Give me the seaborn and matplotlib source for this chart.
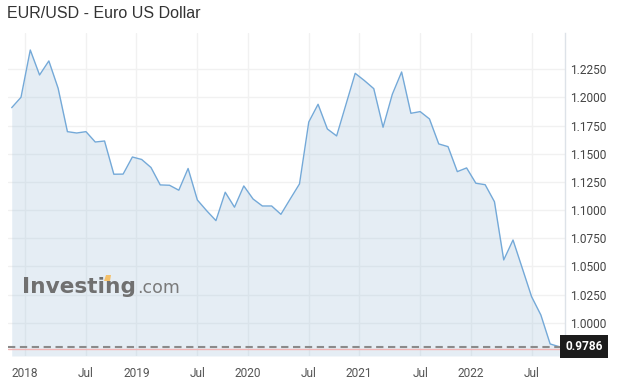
import numpy as np
import pandas as pd
import matplotlib
matplotlib.use("Agg")
import matplotlib.pyplot as plt
import matplotlib.transforms as mtransforms
from matplotlib.patches import Polygon
import seaborn as sns

# ---------------- data ----------------
title = "EUR/USD - Euro US Dollar"
start_month = "2017-11"
values = [1.1909, 1.2001, 1.2421, 1.2199, 1.2324, 1.2081, 1.1696, 1.1684, 1.1696, 1.1604,
          1.1613, 1.1318, 1.1319, 1.1471, 1.1449, 1.1378, 1.1223, 1.1220, 1.1176, 1.1369,
          1.1089, 1.0994, 1.0906, 1.1158, 1.1025, 1.1214, 1.1098, 1.1036, 1.1036, 1.0962,
          1.1098, 1.1232, 1.1782, 1.1939, 1.1720, 1.1658, 1.1936, 1.2214, 1.2149, 1.2078,
          1.1735, 1.2028, 1.2226, 1.1859, 1.1874, 1.1809, 1.1587, 1.1563, 1.1341, 1.1374,
          1.1238, 1.1225, 1.1074, 1.0557, 1.0734, 1.0483, 1.0231, 1.0068, 0.9811, 0.9786]
last_value = 0.9786
ref_value = 0.9764
tick_months = ["2018-01", "2018-07", "2019-01", "2019-07", "2020-01", "2020-07",
               "2021-01", "2021-07", "2022-01", "2022-07"]
tick_labels = ["2018", "Jul", "2019", "Jul", "2020", "Jul", "2021", "Jul", "2022", "Jul"]
y_ticks = [1.0000, 1.0250, 1.0500, 1.0750, 1.1000, 1.1250, 1.1500, 1.1750, 1.2000, 1.2250]

months = pd.period_range(start_month, periods=len(values), freq="M")
df = pd.DataFrame({"month": months.astype(str), "idx": np.arange(len(values)), "price": values})

# ---------------- style ----------------
sns.set_theme(style="white")
plt.rcParams["font.family"] = ["Roboto", "DejaVu Sans"]

W, H = 620, 386
fig = plt.figure(figsize=(W / 100, H / 100), dpi=100)
L, R, T, B = 8, 565, 33, 356
ax = fig.add_axes([L / W, 1 - B / H, (R - L) / W, (B - T) / H])

line_col = "#74a9d8"
sns.lineplot(data=df, x="idx", y="price", ax=ax, color=line_col, linewidth=1.0, zorder=3)
ymin, ymax = 0.9704, 1.2572
ax.fill_between(df["idx"], df["price"], ymin, color="#9bbcd8", alpha=0.26, linewidth=0, zorder=2)

ax.set_xlim(-0.4, 59.6)
ax.set_ylim(ymin, ymax)

# x ticks (year gridlines sit ~half a month ahead of January in the reference)
pos = []
for m, lab in zip(tick_months, tick_labels):
    i = (pd.Period(m, freq="M") - months[0]).n
    pos.append(i - 0.57 if lab != "Jul" else i)
ax.set_xticks(pos)
ax.set_xticklabels(tick_labels)
ax.set_yticks(y_ticks)
ax.set_yticklabels([f"{v:.4f}" for v in y_ticks])

ax.yaxis.tick_right()
ax.tick_params(axis="y", length=0, pad=3.5, labelsize=8.6, labelcolor="#444444")
ax.tick_params(axis="x", length=4, width=1, color="#f0f0f0", pad=4, labelsize=8.6, labelcolor="#555555")
ax.grid(True, color="#f1f1f1", linewidth=1)
ax.set_axisbelow(True)
for s in ["left", "top", "bottom"]:
    ax.spines[s].set_visible(False)
ax.spines["right"].set_color("#dde2e8")
ax.spines["right"].set_linewidth(1)
ax.set_xlabel("")
ax.set_ylabel("")

# reference lines
ax.axhline(ref_value, color="#f2b5b5", linewidth=1, zorder=4)
ax.axhline(last_value, color="#8a8a8a", linewidth=1.5, dashes=(3.5, 2.2), zorder=4)

trans = mtransforms.blended_transform_factory(ax.transAxes, ax.transData)
ax.text(1.0, last_value, "0.9786", transform=trans, ha="left", va="center",
        color="white", fontsize=8.6, fontweight="bold", zorder=6, clip_on=False,
        bbox=dict(boxstyle="square,pad=0.42", fc="#1c1c1c", ec="none"))

# title
fig.text(7 / W, 1 - 14 / H, title, ha="left", va="center", fontsize=11.5,
         color="#333333", family=["Liberation Sans", "DejaVu Sans"])

# watermark logo
fig.text(22 / W, 1 - 293 / H, "Investing", ha="left", va="baseline", fontsize=15.6,
         fontweight="bold", color="#707070", family=["DejaVu Sans"])
fig.text(137 / W, 1 - 293 / H, ".com", ha="left", va="baseline", fontsize=12.5,
         color="#7a7a7a", family=["DejaVu Sans"])
fig.patches.append(Polygon([[104 / W, 1 - 281 / H], [110 / W, 1 - 281 / H],
                            [111 / W, 1 - 275 / H], [106 / W, 1 - 275 / H]],
                           closed=True, transform=fig.transFigure, fc="#f4c06a", ec="none"))

fig.savefig("out.png", dpi=100)
